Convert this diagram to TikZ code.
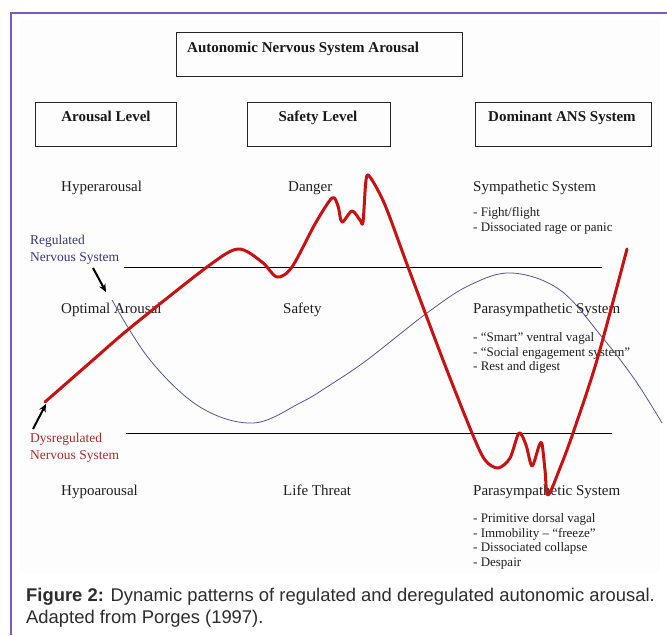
\documentclass[tikz,border=0pt]{standalone}
\usepackage{fontspec}
\setmainfont{Liberation Serif}
\newfontfamily\capfont{Liberation Sans}
\usetikzlibrary{arrows.meta}
\definecolor{frameP}{RGB}{126,87,194}
\definecolor{curveR}{RGB}{200,18,18}
\definecolor{curveB}{RGB}{85,85,150}
\definecolor{regC}{RGB}{55,55,130}
\definecolor{dysC}{RGB}{165,45,45}
\definecolor{capC}{RGB}{45,45,45}
\definecolor{bgC}{RGB}{253,253,253}
\tikzset{
  hbox/.style={draw=black!85, line width=0.9pt, anchor=north west, inner sep=0pt},
  hlab/.style={anchor=base, inner sep=0pt, font=\fontsize{15}{18}\selectfont\bfseries, text=black!90},
  lvl/.style={anchor=base west, inner sep=0pt, font=\fontsize{15}{18}\selectfont, text=black!88},
  lst/.style={anchor=north west, inner sep=0pt, align=left, font=\fontsize{13}{14.8}\selectfont, text=black!88},
  nslab/.style={anchor=north west, inner sep=0pt, align=left, font=\fontsize{13.5}{16.5}\selectfont},
  hline/.style={draw=black, line width=1pt},
  blkarrow/.style={draw=black, line width=2pt, -{Stealth[length=8pt,width=7pt]}},
  redcurve/.style={draw=curveR, line width=3pt, line cap=round, line join=round},
  bluecurve/.style={draw=curveB, line width=0.8pt},
  caption/.style={anchor=west, inner sep=0pt, font=\capfont\fontsize{18.4}{22}\selectfont, text=capC}
}
\begin{document}
\begin{tikzpicture}[x=1pt,y=-1pt]
\useasboundingbox (0,0) rectangle (667,635);
\fill[white] (0,0) rectangle (667,635);
\fill[bgC] (20,20) rectangle (660,573);
% frame
\coordinate (fTL) at (11,13);
\coordinate (fTR) at (667,13);
\coordinate (fBL) at (11,635);
\draw[frameP, line width=1.8pt] (fTR) -- (fTL) -- (fBL);

% header boxes
\node[hbox, minimum width=286pt, minimum height=44pt] (titlebox) at (176,32) {};
\node[anchor=base west, inner sep=0pt, font=\fontsize{15}{18}\selectfont\bfseries, text=black!90] (titlelab) at (187,52) {Autonomic Nervous System Arousal};
\node[hbox, minimum width=141pt, minimum height=44pt] (arbox) at (35,102) {};
\node[hlab] (arlab) at (106,121) {Arousal Level};
\node[hbox, minimum width=143pt, minimum height=44pt] (sfbox) at (247,102) {};
\node[hlab] (sflab) at (318,121) {Safety Level};
\node[hbox, minimum width=176pt, minimum height=44pt] (dmbox) at (475,102) {};
\node[hlab] (dmlab) at (562,121) {Dominant ANS System};

% level labels
\node[lvl] (hyper) at (61,191) {Hyperarousal};
\node[lvl] (danger) at (288,191) {Danger};
\node[lvl] (symp) at (473,191) {Sympathetic System};
\node[lst] (symplist) at (473,207) {- Fight/flight\\- Dissociated rage or panic};

\node[lvl] (optimal) at (61,313) {Optimal Arousal};
\node[lvl] (safety) at (283,313) {Safety};
\node[lvl] (para1) at (473,313) {Parasympathetic System};
\node[lst] (para1list) at (473,332) {- “Smart” ventral vagal\\- “Social engagement system”\\- Rest and digest};

\node[lvl] (hypo) at (61,495) {Hypoarousal};
\node[lvl] (threat) at (283,495) {Life Threat};
\node[lvl] (para2) at (473,495) {Parasympathetic System};
\node[lst] (para2list) at (473,513) {- Primitive dorsal vagal\\- Immobility – “freeze”\\- Dissociated collapse\\- Despair};

% regulated / dysregulated labels
\node[nslab, text=regC] (reglab) at (30,235) {Regulated\\Nervous System};
\node[nslab, text=dysC] (dyslab) at (30,433) {Dysregulated\\Nervous System};

% horizontal lines
\coordinate (l1a) at (124,267);
\coordinate (l1b) at (602,267);
\draw[hline] (l1a) -- (l1b);
\coordinate (l2a) at (126,433);
\coordinate (l2b) at (612,433);
\draw[hline] (l2a) -- (l2b);

% blue curve (regulated)
\draw[bluecurve] plot[smooth, tension=0.6] coordinates {
  (112,300) (150,360) (200,407) (253,423) (300,403) (330,385) (367,360) (427,313) (470,285) (512,273) (560,290) (602,337) (635,380) (662,423)};

% red curve (dysregulated)
\draw[redcurve] plot[smooth, tension=0.5] coordinates {
  (45,402) (93,360) (130,328) (207,267) (238,249) (262,262) (277,277) (292,267) (315,224) (332,198) (338,206) (342,222) (352,211) (360,220) (363,222) (366,180) (370,177) (385,205) (408,267) (443,360) (472,433) (485,460) (498,468) (510,458) (519,433) (526,445) (532,466) (539,446) (542,444) (545,470) (548,495) (560,468) (573,433) (597,360) (627,249)};

% arrows
\coordinate (a1s) at (93,268);
\coordinate (a1e) at (106,292);
\draw[blkarrow] (a1s) -- (a1e);
\coordinate (a2s) at (33,429);
\coordinate (a2e) at (46,404);
\draw[blkarrow] (a2s) -- (a2e);

% caption
\node[caption] (cap1) at (26,597) {\textbf{Figure 2:} Dynamic patterns of regulated and deregulated autonomic arousal.};
\node[caption] (cap2) at (26,619) {Adapted from Porges (1997).};
\end{tikzpicture}
\end{document}
